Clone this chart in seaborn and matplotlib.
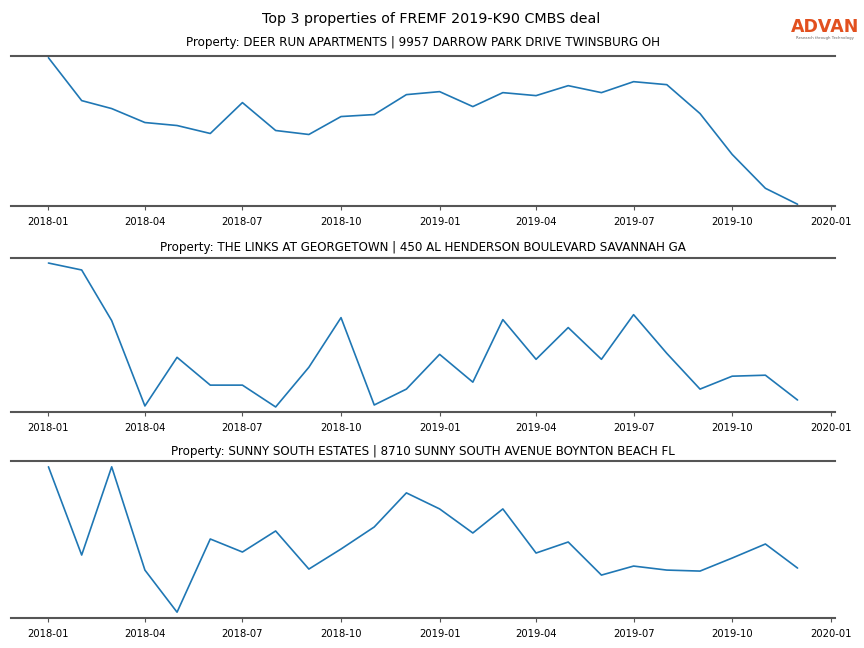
import matplotlib
matplotlib.use("Agg")
import matplotlib.pyplot as plt
import matplotlib.dates as mdates
import seaborn as sns
import pandas as pd

months = pd.date_range("2018-01-01", "2019-12-01", freq="MS")

deer_run = [148, 105, 97, 83, 80, 72, 103, 75, 71, 89, 91, 111,
            114, 99, 113, 110, 120, 113, 124, 121, 92, 51, 17, 1]
links_georgetown = [148, 141, 90, 4, 53, 25, 25, 3, 43, 93, 5, 21,
                    56, 28, 91, 51, 83, 51, 96, 57, 21, 34, 35, 10]
sunny_south = [151, 63, 151, 48, 6, 79, 66, 87, 49, 69, 91, 125,
               109, 85, 109, 65, 76, 43, 52, 48, 47, 60, 74, 50]

titles = [
    "Property: DEER RUN APARTMENTS | 9957 DARROW PARK DRIVE TWINSBURG OH",
    "Property: THE LINKS AT GEORGETOWN | 450 AL HENDERSON BOULEVARD SAVANNAH GA",
    "Property: SUNNY SOUTH ESTATES | 8710 SUNNY SOUTH AVENUE BOYNTON BEACH FL",
]
series = [deer_run, links_georgetown, sunny_south]
suptitle = "Top 3 properties of FREMF 2019-K90 CMBS deal"

sns.set_style("white")
plt.rcParams['font.family'] = ['DejaVu Sans']
plt.rcParams['text.color'] = 'black'
plt.rcParams['xtick.color'] = 'black'

fig = plt.figure(figsize=(8.64, 6.48), dpi=100)
W, H = 864, 648
boxes = [(56, 206), (258, 412), (461, 618)]
ymargins = [0.012, 0.035, 0.04]
pads = [7, 5, 4]
left, right = 11, 835

for (top, bottom), vals, title, ym, pd_ in zip(boxes, series, titles, ymargins, pads):
    ax = fig.add_axes([left / W, 1 - bottom / H, (right - left) / W, (bottom - top) / H])
    df = pd.DataFrame({"date": months, "value": vals})
    sns.lineplot(data=df, x="date", y="value", ax=ax, color="#1f77b4", linewidth=1.2)
    ax.margins(y=ym)
    ax.set_title(title, fontsize=8.6, pad=pd_, color="black")
    ax.set_xlabel("")
    ax.set_ylabel("")
    ax.set_yticks([])
    ax.xaxis.set_major_locator(mdates.MonthLocator(bymonth=[1, 4, 7, 10]))
    ax.xaxis.set_major_formatter(mdates.DateFormatter("%Y-%m"))
    ax.tick_params(axis="x", labelsize=7.2, length=3, width=0.8, color="#555555",
                   labelcolor="black", bottom=True, pad=5)
    for s in ["left", "right"]:
        ax.spines[s].set_visible(False)
    for s in ["top", "bottom"]:
        ax.spines[s].set_color("#555555")
        ax.spines[s].set_linewidth(1.5)

fig.text(431 / W, 1 - 19 / H, suptitle, ha="center", va="center", fontsize=10.3,
         color="black")
fig.text(825 / W, 1 - 27 / H, "ADVAN", ha="center", va="center", fontsize=12.5,
         fontweight="bold", color="#E2501F")
fig.text(825 / W, 1 - 38 / H, "Research through Technology", ha="center", va="center",
         fontsize=2.8, color="#666666")

fig.savefig("out.png", dpi=100)
